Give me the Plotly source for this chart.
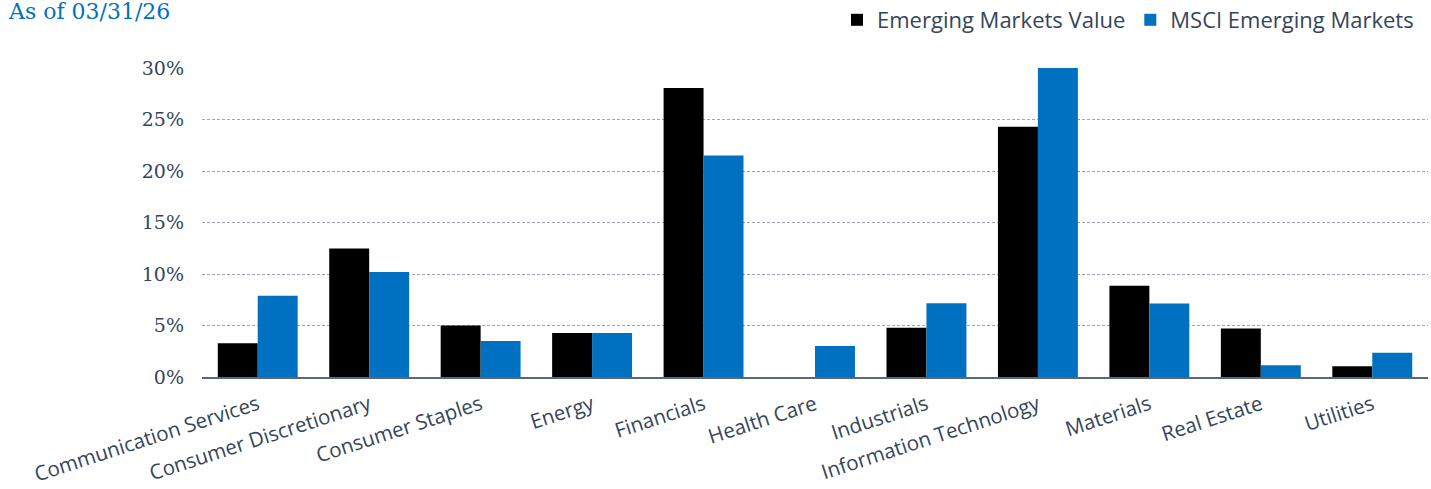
import plotly.graph_objects as go

categories = ["Communication Services", "Consumer Discretionary", "Consumer Staples",
              "Energy", "Financials", "Health Care", "Industrials",
              "Information Technology", "Materials", "Real Estate", "Utilities"]
em_value = [3.27, 12.48, 4.99, 4.28, 28.07, 0.0, 4.77, 24.3, 8.87, 4.70, 1.05]
msci_em = [7.89, 10.2, 3.50, 4.28, 21.5, 3.0, 7.17, 30.1, 7.14, 1.15, 2.36]
series_names = ["Emerging Markets Value", "MSCI Emerging Markets"]
y_ticks = [0, 5, 10, 15, 20, 25, 30]
y_tick_labels = ["0%", "5%", "10%", "15%", "20%", "25%", "30%"]
title_text = "As of 03/31/26"

TEXT = "#34465a"
SANS = "'Open Sans', Lato, sans-serif"
SERIF = "'DejaVu Serif', 'Liberation Serif', serif"

fig = go.Figure()
fig.add_trace(go.Bar(x=categories, y=em_value, name=series_names[0],
                     marker=dict(color="#000000", line=dict(width=0))))
fig.add_trace(go.Bar(x=categories, y=msci_em, name=series_names[1],
                     marker=dict(color="#0070C0", line=dict(width=0))))

fig.update_layout(
    width=1431, height=489,
    margin=dict(l=202, r=3, t=68, b=112, autoexpand=False),
    paper_bgcolor="white", plot_bgcolor="white",
    barmode="group", bargap=0.283, bargroupgap=0,
    legend=dict(orientation="h", xref="container", x=1 - 12 / 1431, xanchor="right",
                yref="container", y=1 - 20 / 489, yanchor="middle",
                font=dict(family=SANS, size=22, color=TEXT), itemwidth=30,
                traceorder="normal", bgcolor="rgba(0,0,0,0)"),
    showlegend=True,
)
fig.add_annotation(text=title_text, xref="paper", yref="paper",
                   x=(6 - 202) / 1226, xanchor="left",
                   y=1 + (68 + 3) / 309, yanchor="top", showarrow=False,
                   font=dict(family=SERIF, size=22, color="#0070C0"))
fig.update_xaxes(
    type="category", tickangle=-18, showgrid=False, automargin=False,
    showline=True, linecolor="#596878", linewidth=2,
    ticks="", ticklabelstandoff=6, tickfont=dict(family=SANS, size=20.5, color=TEXT),
)
fig.update_yaxes(
    range=[0, 30], tickvals=y_ticks, ticktext=y_tick_labels, automargin=False,
    showgrid=True, gridcolor="#9ea7b1", griddash="3px,2px", gridwidth=1,
    zeroline=False, showline=False, ticks="", ticklabelstandoff=17,
    tickfont=dict(family=SERIF, size=19, color=TEXT),
)

fig.write_html("out.html", config={"displayModeBar": False},
               post_script="document.body.style.margin='0';")
